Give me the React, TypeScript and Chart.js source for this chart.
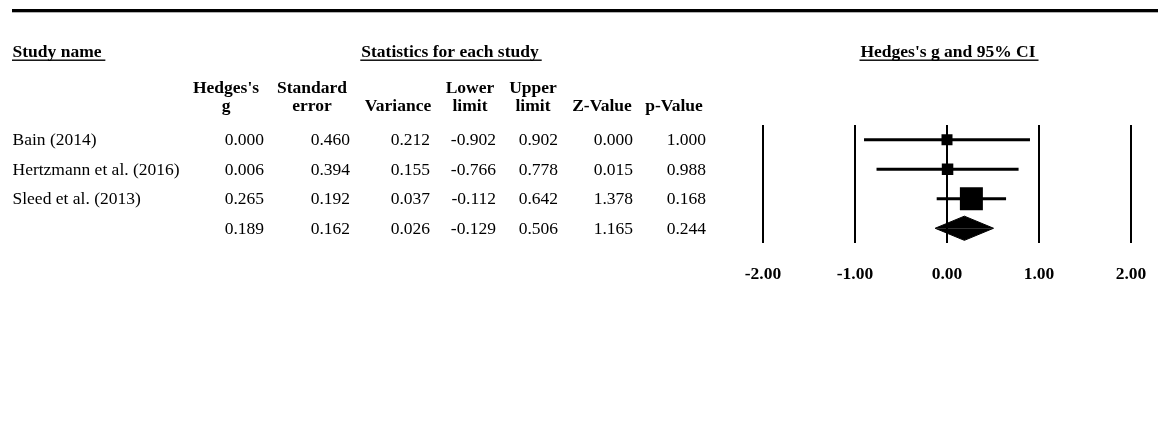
import React, { useEffect, useRef } from "react";
import { Chart, registerables } from "chart.js";

Chart.register(...registerables);

// ---- data ----
const studyNames = ["Bain (2014)", "Hertzmann et al. (2016)", "Sleed et al. (2013)", ""];
const hedgesG = [0.0, 0.006, 0.265, 0.189];
const standardError = [0.46, 0.394, 0.192, 0.162];
const variance = [0.212, 0.155, 0.037, 0.026];
const lowerLimit = [-0.902, -0.766, -0.112, -0.129];
const upperLimit = [0.902, 0.778, 0.642, 0.506];
const zValue = [0.0, 0.015, 1.378, 1.165];
const pValue = [1.0, 0.988, 0.168, 0.244];
const xTicks = [-2, -1, 0, 1, 2];
const headerLine1 = ["Hedges's", "Standard", "", "Lower", "Upper", "", ""];
const headerLine2 = ["g", "error", "Variance", "limit", "limit", "Z-Value", "p-Value"];
const titleStudy = "Study name";
const titleStats = "Statistics for each study";
const titlePlot = "Hedges's g and 95% CI";
const summaryRow = 3;

// ---- styles ----
const SERIF = '"Liberation Serif", "Times New Roman", serif';
const FS = 17.5;
const squareSides = [11, 11.5, 23];
const colRight = [264, 350, 430, 496, 558, 633, 706];
const colCenter = [226, 312, 398, 470, 533, 602, 674];
const diamondHalf = 0.41;

const tablePlugin = {
  id: "forestTable",
  afterDraw(chart: any) {
    const ctx: CanvasRenderingContext2D = chart.ctx;
    const ys = chart.scales.y;
    ctx.save();
    ctx.fillStyle = "#000";
    // top rule
    ctx.fillRect(12, 9, 1146, 3.3);

    // titles
    ctx.font = `bold ${FS}px ${SERIF}`;
    ctx.textBaseline = "alphabetic";
    ctx.textAlign = "left";
    ctx.fillText(titleStudy, 12.5, 57);
    const wStudy = ctx.measureText(titleStudy + " ").width;
    ctx.fillRect(12, 59.5, wStudy, 1.4);

    const drawCentered = (t: string, cx: number) => {
      const w = ctx.measureText(t).width;
      ctx.textAlign = "left";
      ctx.fillText(t, cx - w / 2, 57);
      ctx.fillRect(cx - w / 2 - 1, 59.5, w + 4, 1.4);
    };
    drawCentered(titleStats, 450);
    drawCentered(titlePlot, 948);

    // column headers
    ctx.textAlign = "center";
    headerLine1.forEach((t, i) => { if (t) ctx.fillText(t, colCenter[i], 93); });
    headerLine2.forEach((t, i) => { if (t) ctx.fillText(t, colCenter[i], 111); });

    // rows
    ctx.font = `${FS}px ${SERIF}`;
    ctx.textBaseline = "middle";
    const cols = [hedgesG, standardError, variance, lowerLimit, upperLimit, zValue, pValue];
    studyNames.forEach((name, r) => {
      const y = ys.getPixelForValue(r) + 1;
      ctx.textAlign = "left";
      if (name) ctx.fillText(name, 12.5, y);
      ctx.textAlign = "right";
      cols.forEach((arr, c) => ctx.fillText(arr[r].toFixed(3), colRight[c], y));
    });
    ctx.restore();
  },
};

export default function App() {
  const ref = useRef<HTMLCanvasElement | null>(null);
  useEffect(() => {
    if (!ref.current) return;
    const datasets: any[] = [];
    for (let i = 0; i < summaryRow; i++) {
      datasets.push({
        type: "line",
        data: [{ x: lowerLimit[i], y: i }, { x: upperLimit[i], y: i }],
        borderColor: "#000",
        borderWidth: 3,
        pointRadius: 0,
        fill: false,
        order: 2,
      });
      datasets.push({
        type: "line",
        data: [{ x: hedgesG[i], y: i }],
        showLine: false,
        pointStyle: "rect",
        pointRadius: squareSides[i] / (2 * Math.SQRT1_2),
        pointBackgroundColor: "#000",
        pointBorderWidth: 0,
        borderColor: "#000",
        order: 1,
      });
    }
    const s = summaryRow;
    [-diamondHalf, diamondHalf].forEach((h) => {
      datasets.push({
        type: "line",
        data: [
          { x: lowerLimit[s], y: s },
          { x: hedgesG[s], y: s + h },
          { x: upperLimit[s], y: s },
        ],
        borderColor: "#000",
        borderWidth: 1,
        backgroundColor: "#000",
        pointRadius: 0,
        tension: 0,
        fill: { value: s },
        order: 1,
      });
    });

    const chart = new Chart(ref.current, {
      type: "line",
      data: { datasets },
      options: {
        animation: false,
        responsive: true,
        maintainAspectRatio: false,
        devicePixelRatio: 1,
        events: [],
        layout: { padding: { left: 763, right: 27, top: 125, bottom: 133 } },
        plugins: { legend: { display: false }, tooltip: { enabled: false } },
        scales: {
          x: {
            type: "linear",
            min: -2,
            max: 2,
            afterBuildTicks: (sc: any) => {
              sc.ticks = xTicks.map((v) => ({ value: v }));
            },
            afterFit: (sc: any) => {
              sc.height = 45;
            },
            border: { display: false },
            grid: {
              color: "#000",
              lineWidth: 2,
              drawTicks: true,
              tickLength: 21,
              tickColor: "rgba(0,0,0,0)",
            },
            ticks: {
              color: "#000",
              padding: 0,
              maxRotation: 0,
              autoSkip: false,
              font: { family: SERIF, size: FS, weight: "bold", lineHeight: 1.2 },
              callback: (v: any) => Number(v).toFixed(2),
            },
          },
          y: {
            type: "linear",
            display: false,
            reverse: true,
            min: -0.5,
            max: 3.5,
          },
        },
      },
      plugins: [tablePlugin],
    });
    return () => chart.destroy();
  }, []);

  return (
    <div style={{ position: "fixed", left: 0, top: 0, width: 1158, height: 421, background: "#fff" }}>
      <canvas ref={ref} />
    </div>
  );
}
